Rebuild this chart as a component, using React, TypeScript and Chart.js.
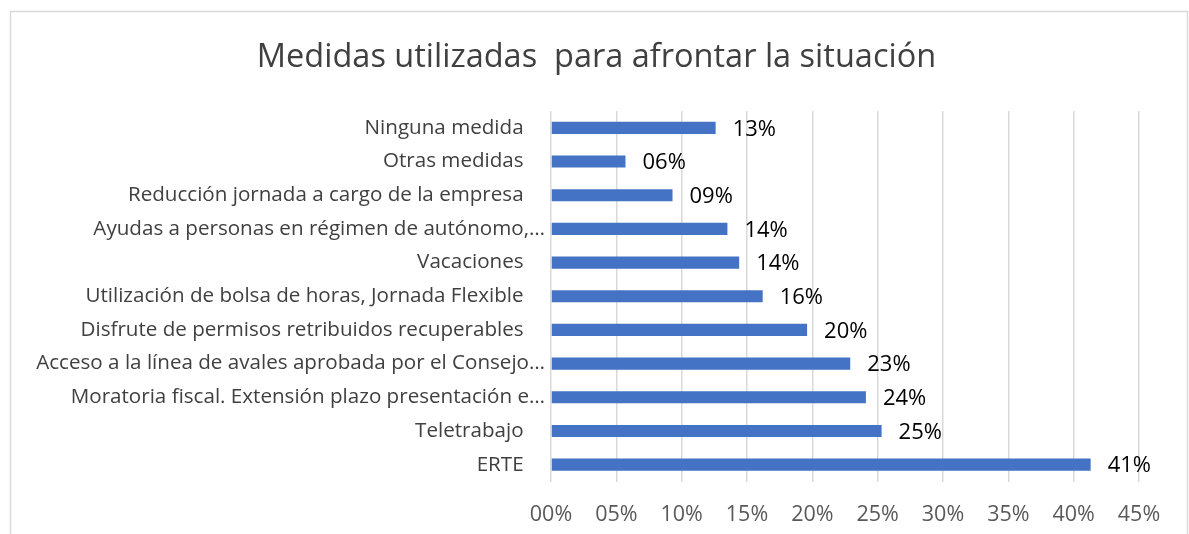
import React, { useEffect, useRef } from "react";
import { Chart, registerables } from "chart.js";

Chart.register(...registerables);

const titleText = "Medidas utilizadas  para afrontar la situación";

const categories = [
  "Ninguna medida",
  "Otras medidas",
  "Reducción jornada a cargo de la empresa",
  "Ayudas a personas en régimen de autónomo,…",
  "Vacaciones",
  "Utilización de bolsa de horas, Jornada Flexible",
  "Disfrute de permisos retribuidos recuperables",
  "Acceso a la línea de avales aprobada por el Consejo…",
  "Moratoria fiscal. Extensión plazo presentación e…",
  "Teletrabajo",
  "ERTE",
];

const values = [12.6, 5.7, 9.3, 13.5, 14.4, 16.2, 19.6, 22.9, 24.1, 25.3, 41.3];

const xTickMin = 0;
const xTickMax = 45;
const xTickStep = 5;

const fmtPct = (v: number) => String(Math.round(v)).padStart(2, "0") + "%";

const FONT = "'Open Sans', sans-serif";

const decorPlugin = {
  id: "decor",
  beforeDraw(chart: any) {
    const { ctx } = chart;
    ctx.save();
    ctx.fillStyle = "#ffffff";
    ctx.fillRect(0, 0, chart.width, chart.height);
    ctx.strokeStyle = "#d9d9d9";
    ctx.lineWidth = 1.5;
    ctx.strokeRect(10.5, 11.5, 1177, 700);
    ctx.fillStyle = "#404040";
    ctx.font = `32.5px ${FONT}`;
    ctx.textAlign = "center";
    ctx.textBaseline = "alphabetic";
    ctx.fillText(titleText, 596.5, 66.5);
    ctx.restore();
  },
  afterDatasetsDraw(chart: any) {
    const { ctx } = chart;
    const meta = chart.getDatasetMeta(0);
    ctx.save();
    ctx.fillStyle = "#000000";
    ctx.font = `22px ${FONT}`;
    ctx.textAlign = "left";
    ctx.textBaseline = "middle";
    meta.data.forEach((bar: any, i: number) => {
      ctx.fillText(fmtPct(values[i]), bar.x + 17, bar.y + 1.5);
    });
    ctx.restore();
  },
};

export default function App() {
  const ref = useRef<HTMLCanvasElement | null>(null);
  useEffect(() => {
    if (!ref.current) return;
    const shownLabels = categories.map((c) => (c.endsWith("…") ? c : c + "\u00a0\u00a0\u00a0\u00a0"));
    const chart = new Chart(ref.current, {
      type: "bar",
      data: {
        labels: shownLabels,
        datasets: [
          {
            data: values,
            backgroundColor: "#4472c4",
            borderWidth: 0,
            categoryPercentage: 1,
            barPercentage: 0.36,
          },
        ],
      },
      options: {
        indexAxis: "y",
        animation: false,
        responsive: false,
        maintainAspectRatio: false,
        layout: { padding: { top: 111, right: 50, bottom: 0, left: 0 } },
        plugins: {
          legend: { display: false },
          title: { display: false },
          tooltip: { enabled: false },
        },
        scales: {
          x: {
            min: xTickMin,
            max: xTickMax,
            ticks: {
              stepSize: xTickStep,
              color: "#595959",
              font: { family: FONT, size: 21.5 },
              padding: 20,
              callback: (v: any) => fmtPct(Number(v)),
            },
            grid: { color: "#d9d9d9", lineWidth: 1.5, drawTicks: false },
            border: { display: false },
            afterFit: (s: any) => {
              s.height = 52.5;
            },
          },
          y: {
            ticks: {
              color: "#404040",
              font: { family: FONT, size: 20.6 },
              padding: 6,
              autoSkip: false,
            },
            grid: { display: false, drawTicks: false },
            border: { display: false },
            afterFit: (s: any) => {
              s.width = 551;
            },
          },
        },
      },
      plugins: [decorPlugin],
    });
    return () => chart.destroy();
  }, []);
  return (
    <div style={{ position: "absolute", left: 0, top: 0, width: 1189, height: 534 }}>
      <canvas ref={ref} width={1189} height={534} style={{ display: "block" }} />
    </div>
  );
}
